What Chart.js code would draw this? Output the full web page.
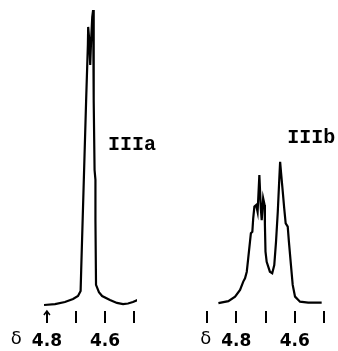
<!DOCTYPE html>
<html>
<head>
<meta charset="utf-8">
<script src="https://cdn.jsdelivr.net/npm/chart.js@4/dist/chart.umd.min.js"></script>
<style>
  html, body { margin: 0; padding: 0; background: #fff; }
  #wrap { position: relative; width: 338px; height: 351px; }
  canvas { position: absolute; top: 0; }
</style>
</head>
<body>
<div id="wrap">
  <canvas id="specA" width="169" height="351" style="left:0"></canvas>
  <canvas id="specB" width="169" height="351" style="left:169px"></canvas>
</div>
<script>
// IIIa trace: chemical shift (ppm) and relative intensity
const shiftA = [4.810, 4.772, 4.738, 4.710, 4.693, 4.684, 4.682, 4.675, 4.670, 4.665, 4.659, 4.658,
  4.654, 4.651, 4.648, 4.644, 4.641, 4.639, 4.636, 4.633, 4.633, 4.631, 4.621, 4.610, 4.583,
  4.559, 4.538, 4.521, 4.504, 4.487];
const intA = [0, 0.3, 1, 2, 3, 4.7, 11.7, 35, 51.7, 68.3, 86.7, 92.7,
  88, 80, 88, 96, 98.3, 68.3, 45, 41.7, 28.3, 6.7, 4.3, 3, 1.7,
  0.7, 0.3, 0.5, 1, 1.7];

// IIIb trace
const shiftB = [4.861, 4.827, 4.804, 4.787, 4.776, 4.770, 4.764, 4.759, 4.753, 4.750, 4.745, 4.742,
  4.738, 4.732, 4.727, 4.721, 4.716, 4.713, 4.708, 4.703, 4.702, 4.700, 4.696, 4.685, 4.677,
  4.670, 4.664, 4.658, 4.653, 4.650, 4.647, 4.641, 4.636, 4.631, 4.624, 4.620, 4.613, 4.607,
  4.599, 4.582, 4.554, 4.508];
const intB = [0.6, 1.3, 2.8, 5, 7.8, 8.9, 11.1, 15.6, 21.1, 23.9, 24.4, 28.9,
  32.8, 33.3, 31, 43.3, 32.2, 28.3, 35.6, 33.3, 26.7, 17.8, 14.4, 11.1, 10.6,
  13.3, 21.1, 31.1, 41.7, 47.7, 44.3, 37.8, 32.2, 27.2, 26.1, 21.1, 13.3, 6.7,
  2.8, 1.1, 0.8, 0.8];

const ticksA = [4.8, 4.7, 4.6, 4.5];
const ticksB = [4.9, 4.8, 4.7, 4.6, 4.5];
const labelled = [4.8, 4.6];

const fmt = v => v.toFixed(1);

// compound name, delta sign and the little arrow on the first tick
const annot = {
  id: 'annot',
  afterDraw(chart, args, opts) {
    const { ctx, chartArea } = chart;
    const x = chart.scales.x, y = chart.scales.y;
    ctx.save();
    ctx.fillStyle = '#000';
    ctx.strokeStyle = '#000';
    ctx.font = 'bold 20px "Liberation Mono"';
    ctx.textAlign = 'left';
    ctx.textBaseline = 'middle';
    ctx.fillText(opts.name, x.getPixelForValue(opts.at[0]), y.getPixelForValue(opts.at[1]));

    ctx.font = 'bold 17px "DejaVu Sans"';
    const px = x.getPixelForValue(4.8);
    const w = ctx.measureText(fmt(4.8)).width;
    ctx.font = '18px "DejaVu Sans"';
    ctx.textAlign = 'right';
    ctx.textBaseline = 'top';
    ctx.fillText('δ', px - w / 2 - 10, chartArea.bottom + 19);

    if (opts.arrow) {
      ctx.lineWidth = 1.5;
      ctx.beginPath();
      ctx.moveTo(px - 3, chartArea.bottom + 4);
      ctx.lineTo(px, chartArea.bottom);
      ctx.lineTo(px + 3, chartArea.bottom + 4);
      ctx.stroke();
    }
    ctx.restore();
  }
};

function makeChart(id, xs, ys, ticks, min, max, pad, name, at, arrow) {
  return new Chart(document.getElementById(id), {
    type: 'line',
    data: {
      datasets: [{
        data: xs.map((v, i) => ({ x: v, y: ys[i] })),
        borderColor: '#000',
        borderWidth: 2.2,
        pointRadius: 0,
        tension: 0,
        fill: false
      }]
    },
    options: {
      responsive: false,
      animation: false,
      layout: { padding: { top: 5, bottom: 0, left: pad[0], right: pad[1] } },
      plugins: {
        legend: { display: false },
        tooltip: { enabled: false },
        annot: { name: name, at: at, arrow: arrow }
      },
      scales: {
        x: {
          type: 'linear',
          reverse: true,
          min: min,
          max: max,
          afterBuildTicks: s => { s.ticks = ticks.map(v => ({ value: v })); },
          afterFit: s => { s.height = 40; s.paddingLeft = 0; s.paddingRight = 0; },
          border: { display: false },
          grid: { drawOnChartArea: false, drawTicks: true, tickLength: 12, color: '#000', lineWidth: 2 },
          ticks: {
            autoSkip: false,
            maxRotation: 0,
            padding: 8,
            color: '#000',
            font: { family: 'DejaVu Sans', size: 17, weight: 'bold' },
            callback: v => labelled.some(l => Math.abs(l - v) < 1e-6) ? fmt(v) : ''
          }
        },
        y: { display: false, min: -2, max: 100 }
      }
    },
    plugins: [annot]
  });
}

makeChart('specA', shiftA, intA, ticksA, 4.49, 4.81, [44, 32], 'IIIa', [4.590, 53.3], true);
makeChart('specB', shiftB, intB, ticksB, 4.5, 4.9, [38, 14], 'IIIb', [4.626, 55.7], false);
</script>
</body>
</html>
